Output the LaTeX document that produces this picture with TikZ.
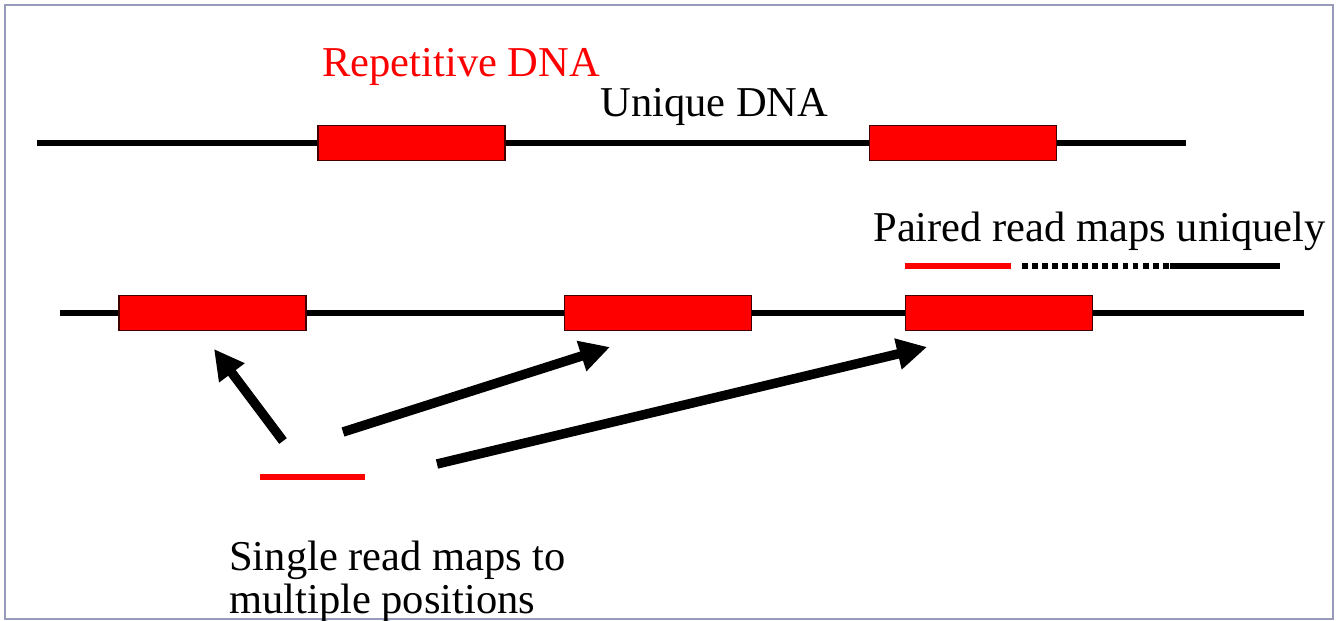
\documentclass[tikz,border=0pt]{standalone}
\usepackage{fontspec}
\setmainfont{Liberation Serif}
\usepackage{tikz}
\usetikzlibrary{positioning}
\usetikzlibrary{shapes,arrows.meta,positioning}
\definecolor{framegray}{RGB}{150,156,186}
\definecolor{repred}{RGB}{255,0,0}
\tikzstyle{repeatbox} = [rectangle, draw=black!75!red, fill=repred, line width=0.8pt,
minimum width=3.74cm, minimum height=0.7cm, inner sep=0pt]
\tikzstyle{strand} = [draw, line width=3pt]
\tikzstyle{readbar} = [rectangle, fill=repred, minimum width=2.12cm, minimum height=0.11cm, inner sep=0pt]
\tikzstyle{lbl} = [inner sep=0pt, anchor=base west, font=\fontsize{24.2}{26}\selectfont]
\tikzstyle{maparrow} = [draw, line width=5.4pt, -{Triangle[length=17pt,width=17pt]}]

\begin{document}
\begin{tikzpicture}[x=0.02cm, y=-0.02cm]
\useasboundingbox (0,0) rectangle (1338,621);
\draw [framegray, line width=1.2pt] (5,5) rectangle (1333,619);
    % strands
\coordinate (ts) at (37,143);
\coordinate (te) at (1186,143);
\coordinate (ms) at (60,313);
\coordinate (me) at (1304,313);
\path [strand] (ts) -- (te);
\path [strand] (ms) -- (me);
    % nodes
\node [repeatbox] (trep1) at (411.5,143) {};
\node [repeatbox, right=7.26cm of trep1] (trep2) {};
\node [repeatbox] (mrep1) at (212.5,313) {};
\node [repeatbox, right=5.14cm of mrep1] (mrep2) {};
\node [repeatbox, right=3.06cm of mrep2] (mrep3) {};
\node [lbl, text=repred] (rdna) at (322,77) {Repetitive DNA};
\node [lbl] (udna) at (600,117) {Unique DNA};
\node [lbl] (pmu) at (873,242) {Paired read maps uniquely};
\node [readbar] (pr1) at (958,266) {};
\node [readbar, fill=black, minimum width=2.2cm] (pr2) at (1225,266) {};
\node [readbar] (sr) at (312.5,477) {};
\node [lbl] (smp1) at (229,570) {Single read maps to};
\node [lbl] (smp2) at (229,613) {multiple positions};

\coordinate (a1s) at (283,441);
\coordinate (a1e) at (214,349);
\coordinate (a2s) at (343,432);
\coordinate (a2e) at (610,347);
\coordinate (a3s) at (437,464);
\coordinate (a3e) at (927,347);

%edges
\draw [line width=3pt, dash pattern=on 3.4pt off 2.3pt] ([xshift=0.22cm]pr1.east) -- (pr2.west);
\path [maparrow] (a1s) -- (a1e);
\path [maparrow] (a2s) -- (a2e);
\path [maparrow] (a3s) -- (a3e);

\end{tikzpicture}
\end{document}
